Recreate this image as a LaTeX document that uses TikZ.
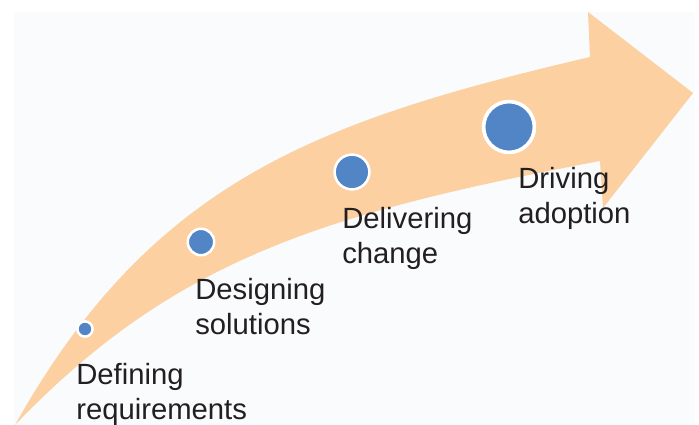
\documentclass[tikz,border=0pt]{standalone}
\usepackage{fontspec}
\setmainfont{Liberation Sans}
\usetikzlibrary{positioning}
\definecolor{bandorange}{HTML}{FCD0A1}
\definecolor{dotblue}{HTML}{5185C5}
\definecolor{paper}{HTML}{F9FBFD}
\definecolor{inkgrey}{HTML}{231F20}

\begin{document}
\begin{tikzpicture}[
  x=0.025cm, y=-0.025cm,
  milestone/.style={circle, fill=dotblue, draw=white, line width=1.8pt, inner sep=0pt},
  stage/.style={anchor=north west, inner sep=0pt, align=left, text=inkgrey,
                font=\fontsize{20.8}{25}\selectfont}
]
  % canvas
  \useasboundingbox[fill=white] (0,0) rectangle (699,425);
  \fill[paper] (14,12) rectangle (695,425);

  % curved arrow
  \fill[bandorange] (15,425) .. controls (152,181) and (317,121) .. (590,57)
    -- (588,12) -- (693,93) -- (603,208) -- (600,161)
    .. controls (325,213) and (174,259) .. (15,425) -- cycle;

  % milestones, growing along the arrow
  \node[milestone, minimum size=0.38cm]  (define)  at (85,329) {};
  \node[milestone, minimum size=0.66cm]  (design)  at (201,242) {};
  \node[milestone, minimum size=0.87cm]  (deliver) at (352,172) {};
  \node[milestone, minimum size=1.27cm, line width=2.6pt] (drive) at (509,127) {};

  % labels
  \node[stage] (definelbl)  at (76,363)  {Defining\\requirements};
  \node[stage] (designlbl)  at (195,278) {Designing\\solutions};
  \node[stage] (deliverlbl) at (342,207) {Delivering\\change};
  \node[stage] (drivelbl)   at (518,167) {Driving\\adoption};
\end{tikzpicture}
\end{document}
